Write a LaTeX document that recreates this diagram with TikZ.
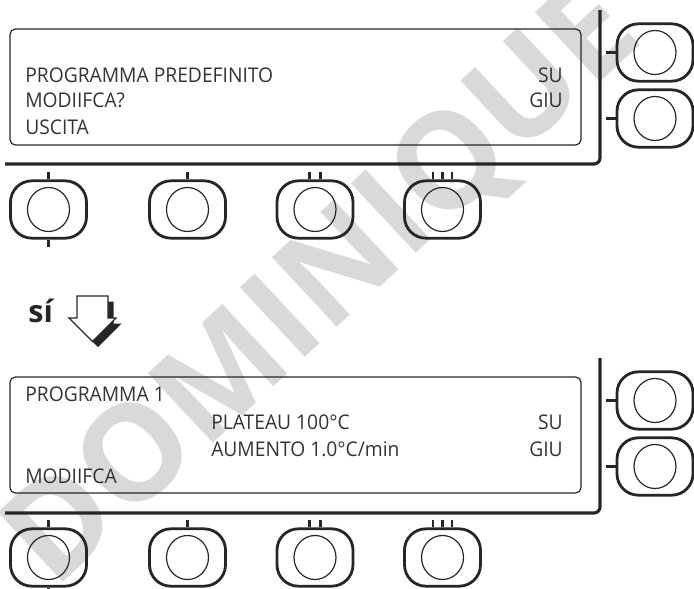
\documentclass[tikz,border=0pt]{standalone}
\usepackage{fontspec}
\setmainfont{Open Sans}[FakeStretch=0.95]
\newfontfamily\markfont{Open Sans}
\usetikzlibrary{positioning}

\begin{document}
\begin{tikzpicture}[x=0.75pt, y=-0.75pt,
  ink/.style={black!85},
  frame/.style={ink, line width=2.3pt, rounded corners=4.5pt},
  screen/.style={ink, line width=0.9pt, rounded corners=4pt},
  knob/.style={draw=black!85, line width=2.1pt, rounded corners=16pt,
               minimum width=57pt, minimum height=43pt, inner sep=0pt},
  dial/.style={ink, line width=0.9pt},
  tick/.style={ink, line width=1.6pt},
  lcd/.style={font=\fontsize{15.2}{18}\selectfont, text=black!80, inner sep=0pt}]
  \useasboundingbox (0,0) rectangle (694,589);

  % Watermark
  \node[rotate=43, text=black!15, font=\markfont\bfseries\fontsize{100}{100}\selectfont]
    (mark) at (325,288) {DOMINIQUE};

  % Upper panel
  \draw[screen] (10,29) rectangle (581,145);
  \draw[frame] (5,164) -- (600,164) -- (600,10);

  \node[lcd, anchor=base west] (pre) at (25,82) {PROGRAMMA PREDEFINITO};
  \node[lcd, anchor=base west] (mod) at (25,107) {MODIIFCA?};
  \node[lcd, anchor=base west] (esc) at (25,134) {USCITA};
  \node[lcd, anchor=base east] (suA) at (563,82) {SU};
  \node[lcd, anchor=base east] (giuA) at (563,107) {GIU};

  \node[knob] (kA1) at (48.5,209.5) {};
  \node[knob] (kA2) at (187.5,209.5) {};
  \node[knob] (kA3) at (315,209.5) {};
  \node[knob] (kA4) at (442.5,209.5) {};
  \node[knob] (kAu) at (655,52.5) {};
  \node[knob] (kAd) at (655,118.5) {};

  \draw[dial] (kA1.center) ellipse [x radius=15.75pt, y radius=16.5pt];
  \draw[dial] (kA2.center) ellipse [x radius=15.75pt, y radius=16.5pt];
  \draw[dial] (kA3.center) ellipse [x radius=15.75pt, y radius=16.5pt];
  \draw[dial] (kA4.center) ellipse [x radius=15.75pt, y radius=16.5pt];
  \draw[dial] (kAu.center) ellipse [x radius=15.75pt, y radius=16.5pt];
  \draw[dial] (kAd.center) ellipse [x radius=15.75pt, y radius=16.5pt];

  % Key marks
  \draw[tick] (kA1.north) -- ++(0,-7);
  \draw[tick] (kA1.south) -- ++(0,7);
  \draw[tick] (kA2.north) -- ++(0,-7);
  \draw[tick] ([xshift=-4.1pt]kA3.north) -- ++(0,-7);
  \draw[tick] ([xshift=4.1pt]kA3.north) -- ++(0,-7);
  \draw[tick] ([xshift=-7pt]kA4.north) -- ++(0,-7);
  \draw[tick] (kA4.north) -- ++(0,-7);
  \draw[tick] ([xshift=7pt]kA4.north) -- ++(0,-7);
  \draw[tick] (kAu.west) -- ++(-10,0);
  \draw[tick] (kAd.west) -- ++(-10,0);

  % Yes arrow
  \node[font=\markfont\bfseries\fontsize{23}{23}\selectfont, text=black!85,
        anchor=base west, inner sep=0pt] (yes) at (28,322) {sí};
  \fill[ink, shift={(5.5,5.5)}] (77,296) -- (108,296) -- (108,318) -- (116,318)
    -- (92.5,341.5) -- (69,318) -- (77,318) -- cycle;
  \draw[ink, fill=white, line width=1pt] (77,296) -- (108,296) -- (108,318)
    -- (116,318) -- (92.5,341.5) -- (69,318) -- (77,318) -- cycle;

  % Lower panel
  \draw[screen] (10,377) rectangle (581,493);
  \draw[frame] (5,513) -- (600,513) -- (600,358);

  \node[lcd, anchor=base west] (prog) at (25,401.5) {PROGRAMMA 1};
  \node[lcd, anchor=base west] (plat) at (211,429) {PLATEAU 100°C};
  \node[lcd, anchor=base west] (ramp) at (211,456) {AUMENTO 1.0°C/min};
  \node[lcd, anchor=base west] (edit) at (25,483) {MODIIFCA};
  \node[lcd, anchor=base east] (suB) at (563,429) {SU};
  \node[lcd, anchor=base east] (giuB) at (563,456) {GIU};

  \node[knob] (kB1) at (48.5,557.5) {};
  \node[knob] (kB2) at (187.5,557.5) {};
  \node[knob] (kB3) at (315,557.5) {};
  \node[knob] (kB4) at (442.5,557.5) {};
  \node[knob] (kBu) at (655,400.5) {};
  \node[knob] (kBd) at (655,466.5) {};

  \draw[dial] (kB1.center) ellipse [x radius=15.75pt, y radius=16.5pt];
  \draw[dial] (kB2.center) ellipse [x radius=15.75pt, y radius=16.5pt];
  \draw[dial] (kB3.center) ellipse [x radius=15.75pt, y radius=16.5pt];
  \draw[dial] (kB4.center) ellipse [x radius=15.75pt, y radius=16.5pt];
  \draw[dial] (kBu.center) ellipse [x radius=15.75pt, y radius=16.5pt];
  \draw[dial] (kBd.center) ellipse [x radius=15.75pt, y radius=16.5pt];

  % Key marks
  \draw[tick] (kB1.north) -- ++(0,-7);
  \draw[tick] (kB1.south) -- ++(0,7);
  \draw[tick] (kB2.north) -- ++(0,-7);
  \draw[tick] ([xshift=-4.1pt]kB3.north) -- ++(0,-7);
  \draw[tick] ([xshift=4.1pt]kB3.north) -- ++(0,-7);
  \draw[tick] ([xshift=-7pt]kB4.north) -- ++(0,-7);
  \draw[tick] (kB4.north) -- ++(0,-7);
  \draw[tick] ([xshift=7pt]kB4.north) -- ++(0,-7);
  \draw[tick] (kBu.west) -- ++(-10,0);
  \draw[tick] (kBd.west) -- ++(-10,0);
\end{tikzpicture}
\end{document}
